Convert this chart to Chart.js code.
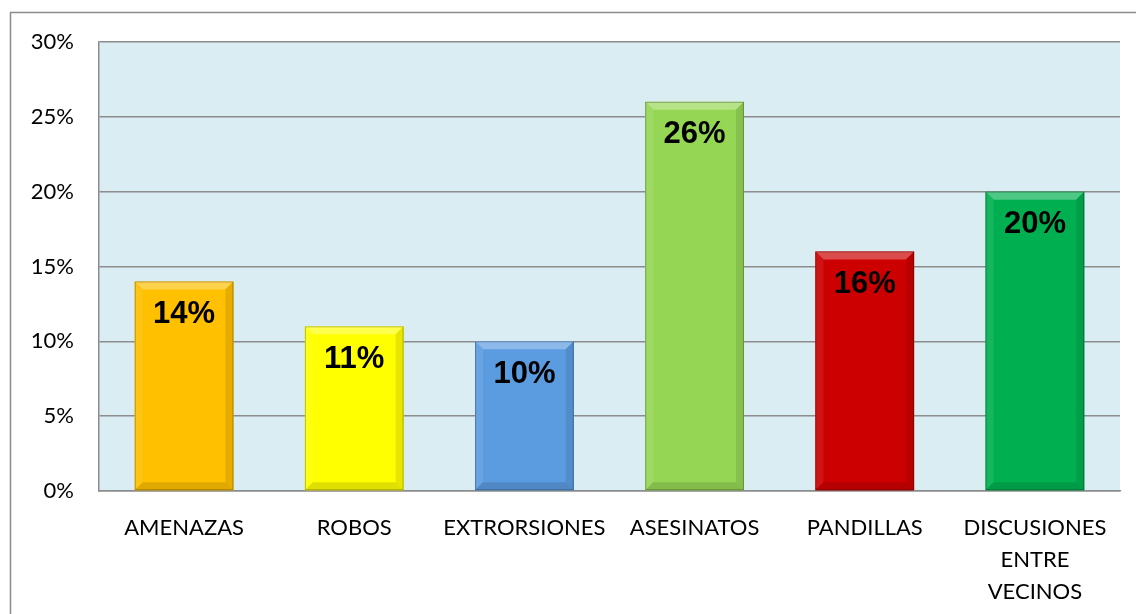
<!DOCTYPE html>
<html>
<head>
<meta charset="utf-8">
<script src="https://cdn.jsdelivr.net/npm/chart.js@4"></script>
<style>
html,body{margin:0;padding:0;background:#fff;}
#wrap{position:relative;width:1136px;height:614px;}
</style>
</head>
<body>
<div id="wrap"><canvas id="c" width="1136" height="614"></canvas></div>
<script>
const categories = ["AMENAZAS", "ROBOS", "EXTRORSIONES", "ASESINATOS", "PANDILLAS", ["DISCUSIONES", "ENTRE", "VECINOS"]];
const values = [14, 11, 10, 26, 16, 20];
const barColors = ["#FFC000", "#FFFF00", "#5B9BE0", "#96D655", "#CC0000", "#00B050"];
const yTicks = [0, 5, 10, 15, 20, 25, 30];

const frame = {
  id: 'frame',
  beforeDraw(chart) {
    const ctx = chart.ctx, a = chart.chartArea;
    ctx.save();
    ctx.fillStyle = '#fff';
    ctx.fillRect(0, 0, chart.width, chart.height);
    ctx.strokeStyle = '#8c8c8c';
    ctx.lineWidth = 1.5;
    ctx.beginPath();
    ctx.moveTo(10.5, chart.height);
    ctx.lineTo(10.5, 12.5);
    ctx.lineTo(chart.width, 12.5);
    ctx.stroke();
    ctx.fillStyle = '#DAEDF3';
    ctx.fillRect(a.left, a.top, a.right - a.left, a.bottom - a.top);
    ctx.restore();
  }
};

function shade(hex, amt) {
  const n = parseInt(hex.slice(1), 16);
  let r = (n >> 16) & 255, g = (n >> 8) & 255, b = n & 255;
  if (amt >= 0) { r += (255 - r) * amt; g += (255 - g) * amt; b += (255 - b) * amt; }
  else { r *= 1 + amt; g *= 1 + amt; b *= 1 + amt; }
  return `rgb(${Math.round(r)},${Math.round(g)},${Math.round(b)})`;
}

const bevel = {
  id: 'bevel',
  afterDatasetsDraw(chart) {
    const ctx = chart.ctx;
    const meta = chart.getDatasetMeta(0);
    meta.data.forEach((el, i) => {
      const p = el.getProps(['x', 'y', 'base', 'width'], true);
      const l = p.x - p.width / 2, r = p.x + p.width / 2, t = p.y, b = p.base;
      const s = 8;
      const c = barColors[i];
      ctx.save();
      ctx.fillStyle = shade(c, 0.3);
      ctx.beginPath();
      ctx.moveTo(l, t); ctx.lineTo(r, t); ctx.lineTo(r - s, t + s); ctx.lineTo(l + s, t + s); ctx.closePath(); ctx.fill();
      ctx.fillStyle = shade(c, 0.08);
      ctx.beginPath();
      ctx.moveTo(l, t); ctx.lineTo(l + s, t + s); ctx.lineTo(l + s, b - s); ctx.lineTo(l, b); ctx.closePath(); ctx.fill();
      ctx.fillStyle = shade(c, -0.1);
      ctx.beginPath();
      ctx.moveTo(r, t); ctx.lineTo(r - s, t + s); ctx.lineTo(r - s, b - s); ctx.lineTo(r, b); ctx.closePath(); ctx.fill();
      ctx.fillStyle = shade(c, -0.12);
      ctx.beginPath();
      ctx.moveTo(l, b); ctx.lineTo(l + s, b - s); ctx.lineTo(r - s, b - s); ctx.lineTo(r, b); ctx.closePath(); ctx.fill();
      ctx.strokeStyle = 'rgba(0,0,0,0.25)';
      ctx.lineWidth = 1;
      ctx.strokeRect(l + 0.5, t + 0.5, p.width - 1, b - t - 1);
      ctx.fillStyle = '#000';
      ctx.font = 'bold 31px "Liberation Sans", Arial, sans-serif';
      ctx.textAlign = 'center';
      ctx.textBaseline = 'middle';
      ctx.fillText(values[i] + '%', p.x, t + 33);
      ctx.restore();
    });
  }
};

new Chart(document.getElementById('c'), {
  type: 'bar',
  data: {
    labels: categories,
    datasets: [{
      data: values,
      backgroundColor: barColors,
      borderWidth: 0,
      categoryPercentage: 1,
      barPercentage: 0.58
    }]
  },
  options: {
    responsive: false,
    animation: false,
    devicePixelRatio: 1,
    layout: { padding: { left: 10, top: 42, right: 16, bottom: 0 } },
    plugins: { legend: { display: false }, tooltip: { enabled: false } },
    scales: {
      x: {
        grid: { display: false, drawTicks: false },
        border: { display: true, color: '#8c8c8c', width: 1.5 },
        ticks: {
          color: '#000',
          font: { family: 'Lato, "Open Sans", sans-serif', size: 22, lineHeight: 1.45 },
          padding: 21,
          maxRotation: 0,
          autoSkip: false
        },
        afterFit(s) { s.height = 614 - 491; }
      },
      y: {
        min: 0, max: 30,
        afterBuildTicks(s) { s.ticks = yTicks.map(v => ({ value: v })); },
        grid: { color: '#8c8c8c', lineWidth: 1.5, drawTicks: false },
        border: { display: true, color: '#8c8c8c', width: 1.5 },
        ticks: {
          color: '#000',
          font: { family: 'Lato, "Open Sans", sans-serif', size: 22 },
          padding: 25,
          callback: v => v + '%'
        },
        afterFit(s) { s.width = 89; }
      }
    }
  },
  plugins: [frame, bevel]
});
</script>
</body>
</html>
